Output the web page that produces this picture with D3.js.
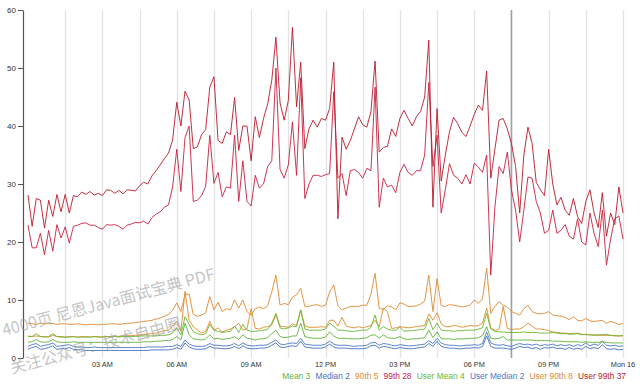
<!DOCTYPE html>
<html>
<head>
<meta charset="utf-8">
<script src="https://cdn.jsdelivr.net/npm/d3@7"></script>
<style>
  body { margin: 0; background: #fff; }
  svg { display: block; font-family: "Liberation Sans", Arial, Helvetica, sans-serif; }
</style>
</head>
<body>
<svg id="chart" width="640" height="388"></svg>
<script>
// Sunday 00:00 -> Monday 00:00, one sample every 10 minutes (145 samples)
const startTime = new Date(2015, 2, 15, 0, 0);
const endTime = new Date(2015, 2, 16, 0, 0);
const markerTime = new Date(2015, 2, 15, 19, 30);
const yTicks = [0, 10, 20, 30, 40, 50, 60];

const mean = [
  2.7,2.8,3.2,2.8,2.7,2.8,3.2,2.8,2.7,2.7, 2.7,2.8,2.7,2.7,2.7,2.7,2.7,2.7,2.7,2.7,
  2.7,2.7,2.7,2.7,2.7,2.7,2.7,2.7,2.8,2.8, 2.8,2.9,2.9,3.0,3.0,3.2,3.7,3.1,6.0,4.0,
  3.3,3.2,3.1,3.3,4.0,3.3,3.4,3.2,3.3,3.4, 3.7,3.2,4.0,3.4,3.3,3.1,3.3,3.3,3.5,4.2,
  4.8,3.7,3.5,3.6,3.8,3.8,6.0,3.7,3.5,3.4, 3.4,3.4,3.6,4.5,3.8,3.4,3.4,3.4,3.3,3.3,
  3.3,3.4,3.5,3.9,4.0,3.4,4.0,3.5,3.4,3.4, 3.7,3.3,3.2,3.3,3.3,3.4,3.5,4.8,3.5,4.5,
  3.3,3.3,3.3,3.2,3.3,3.3,3.3,3.4,3.4,3.5, 3.9,5.4,3.4,3.3,3.4,3.7,3.1,3.1,3.1,3.1,
  3.1,3.1,3.1,3.0,3.0,3.0,3.0,2.9,2.9,2.9, 2.8,2.8,2.8,2.8,2.7,2.8,2.7,2.7,2.7,2.8,
  2.7,2.6,2.6,2.6,2.6
];
const median = [
  1.5,1.8,2.0,1.5,1.6,1.8,2.1,1.5,1.6,1.6, 1.8,1.5,1.4,1.4,1.3,1.3,1.3,1.3,1.3,1.3,
  1.3,1.3,1.3,1.3,1.3,1.3,1.3,1.3,1.3,1.3, 1.4,1.4,1.4,1.4,1.4,1.5,1.8,1.5,2.6,1.9,
  1.6,1.5,1.5,1.6,2.0,1.7,1.7,1.6,1.6,1.7, 2.0,1.6,2.1,1.7,1.6,1.6,1.7,1.7,1.8,2.2,
  2.6,1.9,1.8,2.0,2.1,2.0,2.9,1.9,1.8,1.7, 1.7,1.7,1.9,2.4,1.9,1.7,1.7,1.7,1.6,1.6,
  1.6,1.6,1.7,2.1,2.2,1.7,2.0,1.9,1.7,1.6, 1.8,1.7,1.6,1.6,1.7,1.8,1.9,2.5,2.0,2.9,
  2.0,1.8,1.7,1.7,1.6,1.6,1.7,1.7,1.8,1.7, 2.0,3.8,2.0,1.7,1.7,1.7,1.6,1.5,1.7,2.0,
  1.8,1.9,1.6,1.8,1.5,1.8,1.7,1.9,1.6,1.7, 1.5,1.8,1.5,1.7,1.5,2.0,1.6,1.8,1.6,2.3,
  1.6,1.5,1.6,1.4,1.5
];
const p90 = [
  3.8,3.7,3.8,3.7,3.7,3.6,3.9,3.7,3.7,3.6, 3.7,3.7,3.6,3.7,3.7,3.6,3.7,3.7,3.6,3.7,
  3.7,3.8,3.7,3.8,3.8,3.9,3.9,4.0,4.1,4.1, 4.2,4.3,4.5,4.7,4.8,5.5,6.3,4.6,11.5,6.5,
  5.4,4.8,4.3,4.6,6.3,4.8,5.2,4.5,4.8,5.0, 5.4,6.0,4.8,5.0,8.5,5.1,5.0,5.3,5.4,5.7,
  7.4,5.5,5.4,5.3,5.9,5.6,8.3,5.5,5.3,5.3, 5.3,5.4,5.3,6.5,6.5,5.5,7.0,5.5,5.3,5.2,
  5.4,5.2,5.4,5.6,6.5,5.4,8.6,8.0,5.1,5.2, 5.4,5.3,5.2,5.3,5.4,5.5,5.6,7.6,6.5,7.8,
  5.9,5.4,5.4,5.6,5.5,5.3,5.4,5.6,5.5,5.6, 6.0,8.6,5.2,4.8,4.9,8.9,5.1,4.9,5.0,5.0,
  5.4,6.0,5.5,5.0,5.0,4.9,4.7,4.5,4.4,4.3, 4.3,4.2,4.2,4.3,4.1,4.0,4.0,4.0,3.9,3.9,
  3.9,3.9,3.8,3.8,3.8
];
const p99 = [
  22.9,19.0,19.0,21.5,17.8,22.0,18.4,23.0,20.7,22.6, 19.8,22.7,22.9,23.2,23.3,22.9,22.9,22.5,22.2,23.0,
  22.9,23.0,22.7,22.2,22.9,23.1,23.4,23.3,23.6,23.1, 24.2,24.8,25.2,26.0,26.4,29.5,36.0,28.7,38.0,40.0,
  27.0,27.2,28.0,29.6,38.4,30.1,32.0,27.8,29.5,29.3, 38.4,27.0,34.0,27.0,26.2,31.5,29.3,30.0,33.0,34.0,
  50.0,32.5,31.0,33.3,40.7,31.5,48.3,27.5,30.0,31.5, 31.5,31.3,31.6,31.8,45.9,31.0,31.8,28.0,32.3,32.5,
  32.0,31.0,32.7,32.3,46.7,26.0,31.0,29.5,29.8,28.5, 32.0,33.4,32.0,31.5,32.3,32.3,35.0,47.5,33.0,38.4,
  25.0,29.0,33.5,31.5,31.0,30.0,31.6,30.0,33.6,32.9, 32.0,35.0,14.3,26.0,33.0,31.8,35.5,29.0,25.5,20.0,
  25.5,31.2,31.0,27.0,25.0,21.5,22.0,25.5,21.5,22.0, 23.0,21.0,20.5,24.0,20.0,19.5,25.0,21.5,19.2,25.5,
  16.0,20.5,24.0,24.5,20.5
];
const userMean = [
  3.7,3.7,4.2,3.7,3.6,3.7,4.2,3.7,3.6,3.6, 3.6,3.7,3.6,3.6,3.6,3.6,3.7,3.6,3.6,3.7,
  3.6,3.7,3.6,3.7,3.7,3.7,3.7,3.8,3.8,3.8, 3.8,3.8,3.9,3.9,4.0,4.3,5.2,4.0,7.1,5.8,
  4.5,4.2,4.0,4.2,5.8,4.8,4.6,4.4,4.5,4.6, 5.5,4.4,5.8,4.8,4.6,4.6,4.7,4.8,4.9,6.0,
  7.7,5.2,5.0,5.2,5.5,5.4,8.3,5.0,4.8,4.8, 4.8,4.8,5.0,6.0,5.5,4.8,4.8,4.7,4.6,4.6,
  4.7,4.8,4.8,5.3,7.4,4.8,5.4,5.0,4.8,4.8, 5.3,4.6,4.7,4.7,4.8,4.9,5.0,6.8,4.9,6.0,
  4.8,4.7,4.7,4.6,4.7,4.7,4.8,4.8,4.8,5.0, 5.2,7.7,5.0,4.6,4.5,4.5,4.4,4.4,4.4,4.4,
  4.5,4.4,4.4,4.4,4.3,4.3,4.3,4.4,4.3,4.2, 4.2,4.1,4.1,4.2,4.0,4.1,4.0,3.9,4.0,4.0,
  4.1,3.9,3.9,3.8,3.9
];
const userMedian = [
  2.0,2.3,2.5,2.0,2.2,2.3,2.6,2.0,2.1,2.2, 2.3,2.0,1.9,1.9,1.8,1.8,1.9,1.8,1.8,1.8,
  1.8,1.8,1.8,1.8,1.8,1.8,1.8,1.8,1.8,1.9, 1.9,1.9,1.9,1.9,2.0,2.0,2.3,2.0,3.1,2.4,
  2.1,2.0,2.0,2.1,2.5,2.2,2.2,2.1,2.1,2.2, 2.5,2.1,2.6,2.2,2.1,2.1,2.2,2.2,2.3,2.7,
  3.1,2.4,2.3,2.5,2.6,2.5,3.4,2.4,2.3,2.2, 2.2,2.2,2.4,2.9,2.4,2.2,2.2,2.2,2.1,2.0,
  2.1,2.1,2.2,2.6,2.7,2.2,2.5,2.4,2.2,2.1, 2.3,2.2,2.1,2.1,2.2,2.3,2.4,3.0,2.5,3.4,
  2.6,2.3,2.2,2.2,2.1,2.1,2.2,2.2,2.3,2.2, 2.5,4.5,2.6,2.3,2.2,2.3,2.1,2.0,2.3,2.5,
  2.3,2.4,2.2,2.4,2.1,2.3,2.2,2.4,2.1,2.3, 2.1,2.3,2.0,2.3,2.1,2.6,2.1,2.4,2.2,2.9,
  2.2,2.1,2.2,2.0,2.1
];
const user90 = [
  6.0,5.9,5.8,6.0,5.9,5.9,6.0,5.8,5.9,5.9, 5.8,5.8,5.9,5.8,5.7,5.8,5.8,5.7,5.8,5.8,
  5.9,5.9,5.8,5.9,6.0,6.0,6.1,6.2,6.3,6.4, 6.5,6.7,6.9,7.2,7.5,8.2,9.5,8.0,11.0,11.0,
  7.5,7.2,7.4,7.8,10.6,8.3,9.6,8.0,8.5,8.3, 10.0,8.6,10.0,8.0,7.4,8.5,8.8,8.5,9.0,11.4,
  14.3,9.1,9.4,9.2,10.5,10.9,12.0,8.9,8.9,9.1, 9.2,8.9,9.1,11.4,12.6,9.0,8.3,8.6,8.9,8.9,
  8.9,9.1,9.1,11.0,14.6,8.5,8.4,9.0,8.8,8.3, 9.5,9.3,8.9,8.9,9.0,9.3,9.8,14.3,8.0,13.7,
  9.0,8.9,9.2,9.1,9.0,8.8,8.9,9.1,10.0,9.4, 10.2,15.5,7.7,8.9,9.7,9.1,8.8,8.0,7.7,7.4,
  8.5,9.1,8.0,7.7,7.6,7.7,8.0,7.4,7.3,7.2, 7.0,6.6,7.1,6.5,6.4,6.8,6.4,6.3,6.4,6.5,
  6.0,6.3,6.1,5.7,6.0
];
const user99 = [
  28.1,22.7,27.5,27.2,22.4,27.2,24.4,28.2,25.2,28.2, 25.0,28.0,27.8,28.6,28.2,28.7,28.1,28.4,28.0,29.0,
  28.9,28.4,28.9,28.3,29.0,28.9,28.8,29.7,30.3,30.0, 31.4,32.3,33.3,34.4,35.3,37.6,44.1,40.0,46.0,44.5,
  36.1,36.4,38.5,39.4,46.7,48.5,37.5,37.0,39.0,38.5, 44.9,35.8,40.0,40.0,34.0,41.6,38.0,41.3,43.8,47.9,
  55.3,44.0,41.0,44.4,57.0,43.3,51.0,36.1,39.5,41.0, 39.8,41.3,41.0,43.0,51.0,24.0,38.1,36.0,37.5,39.5,
  41.6,40.2,39.8,42.5,51.2,35.5,36.3,36.5,39.5,38.2, 41.3,42.7,41.3,40.0,41.6,42.5,45.0,54.8,26.0,43.0,
  30.5,35.0,39.0,41.5,40.4,38.9,38.2,40.0,42.0,43.6, 42.7,49.5,31.0,36.0,41.0,41.3,39.5,37.0,33.0,25.0,
  35.0,39.8,37.0,30.3,29.0,28.0,36.0,30.0,26.4,27.7, 25.5,24.6,27.5,24.4,23.2,27.0,29.0,25.0,22.5,28.5,
  21.0,25.0,23.0,29.5,25.0
];

const seriesNames = ["Mean", "Median", "90th", "99th", "User Mean", "User Median", "User 90th", "User 99th"];
const seriesValues = [mean, median, p90, p99, userMean, userMedian, user90, user99];
const seriesLegendValues = [3, 2, 5, 28, 4, 2, 8, 37];
const seriesColors = ["#5fb336", "#4170c2", "#df8c2e", "#c8203f", "#68b82f", "#4a77c6", "#de8a32", "#b8192a"];

const times = d3.range(mean.length).map(i => d3.timeMinute.offset(startTime, i * 10));

var svg = d3.select("#chart");

var x = d3.scaleTime().domain([startTime, endTime]).range([28, 623]);
var y = d3.scaleLinear().domain([0, 60]).range([358, 10]);

// vertical grid every 90 minutes
const gridTimes = d3.range(1, 17).map(k => d3.timeMinute.offset(startTime, 90 * k));
svg.append("g")
    .selectAll("line")
    .data(gridTimes)
    .join("line")
        .attr("x1", d => Math.round(x(d)) + 0.5)
        .attr("x2", d => Math.round(x(d)) + 0.5)
        .attr("y1", y(60))
        .attr("y2", y(0))
        .attr("stroke", "#e2e2e2")
        .attr("stroke-width", 1.3);

// hover marker
svg.append("line")
    .attr("x1", x(markerTime)).attr("x2", x(markerTime))
    .attr("y1", y(60)).attr("y2", y(0))
    .attr("stroke", "#98a3b0")
    .attr("stroke-width", 1.6);

// x labels (3 hour steps)
const fmt = d => d.getHours() === 0 ? d3.timeFormat("%a %d")(d) : d3.timeFormat("%I %p")(d);
svg.append("g")
    .selectAll("text")
    .data(d3.timeHour.every(3).range(d3.timeHour.offset(startTime, 1), d3.timeMinute.offset(endTime, 1)))
    .join("text")
        .attr("x", d => x(d))
        .attr("y", 367)
        .attr("text-anchor", "middle")
        .attr("font-size", "7.3px")
        .attr("fill", "#333")
        .text(fmt);

// lines
var line = d3.line()
    .x((d, i) => x(times[i]))
    .y(d => y(d));

svg.append("g")
    .selectAll("path")
    .data(seriesValues)
    .join("path")
        .attr("d", d => line(d))
        .attr("fill", "none")
        .attr("stroke", (d, i) => seriesColors[i])
        .attr("stroke-width", 1)
        .attr("stroke-opacity", 0.9)
        .attr("stroke-linejoin", "round");

// y axis
var yAxis = svg.append("g")
    .attr("transform", "translate(23,0)")
    .call(d3.axisLeft(y).tickValues(yTicks).tickSize(5).tickSizeOuter(0).tickPadding(2));
yAxis.select(".domain").attr("stroke", "#555").attr("stroke-width", 1.2);
yAxis.selectAll(".tick line").attr("stroke", "#555");
yAxis.selectAll(".tick text")
    .attr("font-size", "8px")
    .attr("font-family", "Liberation Sans, Arial, sans-serif")
    .attr("fill", "#333");

// legend, right aligned
var legend = svg.append("g");
var items = legend.selectAll("text")
    .data(seriesNames)
    .join("text")
        .attr("y", 379)
        .attr("font-size", "8.4px")
        .attr("fill", (d, i) => seriesColors[i])
        .text((d, i) => d + " " + seriesLegendValues[i]);
var widths = [];
items.each(function() { widths.push(this.getComputedTextLength()); });
var gap = 5.2;
var pos = 626 - d3.sum(widths) - gap * (widths.length - 1);
items.attr("x", (d, i) => {
    var px = pos;
    pos += widths[i] + gap;
    return px;
});

// watermark overlay
var wm = svg.append("g")
    .attr("fill", "#9a9a9a")
    .attr("fill-opacity", 0.6)
    .attr("font-family", "Noto Sans CJK SC, sans-serif")
    .attr("font-size", "16px");
wm.append("text")
    .attr("transform", "translate(4,336) rotate(-15)")
    .text("4000页 尼恩Java面试宝典 PDF");
wm.append("text")
    .attr("transform", "translate(12,374) rotate(-15)")
    .text("关注公众号：技术自由圈");
</script>
</body>
</html>
